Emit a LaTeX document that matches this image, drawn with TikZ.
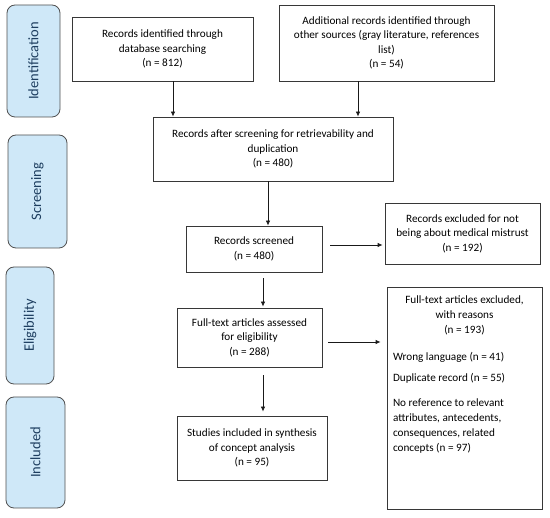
\documentclass[tikz,border=0pt]{standalone}
\usepackage{fontspec}
\setmainfont{Carlito}
\usetikzlibrary{arrows.meta}

\definecolor{phasefill}{RGB}{207,232,248}
\definecolor{phasedraw}{RGB}{80,80,80}
\definecolor{phasetext}{RGB}{30,62,96}
\definecolor{boxdraw}{RGB}{55,55,55}

\tikzset{every picture/.style={line width=0.8pt}}
\tikzset{
  phase/.style={draw=phasedraw, fill=phasefill, rounded corners=8pt, rotate=90,
    text=phasetext, font=\fontsize{14.5}{16}\selectfont, inner sep=0pt},
  flowbox/.style={draw=boxdraw, align=center, inner sep=0pt,
    font=\fontsize{11.2}{14.5}\selectfont},
  arr/.style={draw=black!90, line width=0.8pt, -{Latex[length=5pt,width=4.5pt]}}
}

\begin{document}
\begin{tikzpicture}[x=1pt,y=1pt,yscale=-1]
\useasboundingbox (0,0) rectangle (550,518);

%Rounded Rect: phase labels
\node[phase, minimum width=112pt, minimum height=53pt] (ident) at (33.5,61) {Identification};
\node[phase, minimum width=113pt, minimum height=59pt] (screen) at (37.5,191.5) {Screening};
\node[phase, minimum width=117pt, minimum height=48pt] (elig) at (30,325.5) {Eligibility};
\node[phase, minimum width=111pt, minimum height=59pt] (incl) at (35.5,452.5) {Included};

%Shape: Rectangle
\node[flowbox, minimum width=181pt, minimum height=64pt] (dbrec) at (162.5,49)
  {Records identified through\\ database searching\\ (n = 812)};
\node[flowbox, minimum width=215pt, minimum height=76pt] (addrec) at (386.5,43)
  {Additional records identified through\\ other sources (gray literature, references\\ list)\\ (n = 54)};
\node[flowbox, minimum width=240pt, minimum height=64pt] (dedup) at (273,149)
  {Records after screening for retrievability and\\ duplication\\ (n = 480)};
\node[flowbox, minimum width=136pt, minimum height=46pt] (scrn) at (254,249)
  {Records screened\\ (n = 480)};
\node[flowbox, minimum width=155pt, minimum height=61pt] (excl) at (462.5,233.5)
  {Records excluded for not\\ being about medical mistrust\\ (n = 192)};
\node[flowbox, minimum width=145pt, minimum height=59pt] (fulltxt) at (249.5,337.5)
  {Full-text articles assessed\\ for eligibility\\ (n = 288)};
\node[flowbox, minimum width=150pt, minimum height=64pt] (studies) at (252,448)
  {Studies included in synthesis\\ of concept analysis\\ (n = 95)};
\node[flowbox, inner xsep=6pt, inner ysep=5pt] (ftexcl) at (464.5,398)
  {\parbox[c][212pt][t]{143pt}{\fontsize{11.2}{15}\selectfont\vspace*{4pt}%
    {\centering Full-text articles excluded,\\ with reasons\\ (n = 193)\par}%
    \raggedright
    \vspace{12pt}Wrong language (n = 41)\par
    \vspace{6pt}Duplicate record (n = 55)\par
    \vspace{10pt}No reference to relevant\\ attributes, antecedents,\\ consequences, related\\ concepts (n = 97)\par}};

%Straight Lines: connectors
\draw[arr] ([xshift=10.5pt]dbrec.south) -- ([xshift=10.5pt]dbrec.south |- dedup.north);
\draw[arr] ([xshift=-28.5pt]addrec.south) -- ([xshift=-28.5pt]addrec.south |- dedup.north);
\draw[arr] ([xshift=-5pt]dedup.south) -- ([xshift=-5pt]dedup.south |- scrn.north);
\draw[arr, shorten <=8pt, shorten >=2pt] ([yshift=-4pt]scrn.east) -- ([yshift=-4pt]scrn.east -| excl.west);
\draw[arr, shorten <=6pt, shorten >=1pt] ([xshift=9pt]scrn.south) -- ([xshift=9pt]scrn.south |- fulltxt.north);
\draw[arr, shorten <=8pt, shorten >=4pt] ([xshift=13.5pt]fulltxt.south) -- ([xshift=13.5pt]fulltxt.south |- studies.north);
\draw[arr, shorten <=6pt, shorten >=6pt] ([yshift=4.5pt]fulltxt.east) -- ([yshift=4.5pt]fulltxt.east -| ftexcl.west);

\end{tikzpicture}
\end{document}
